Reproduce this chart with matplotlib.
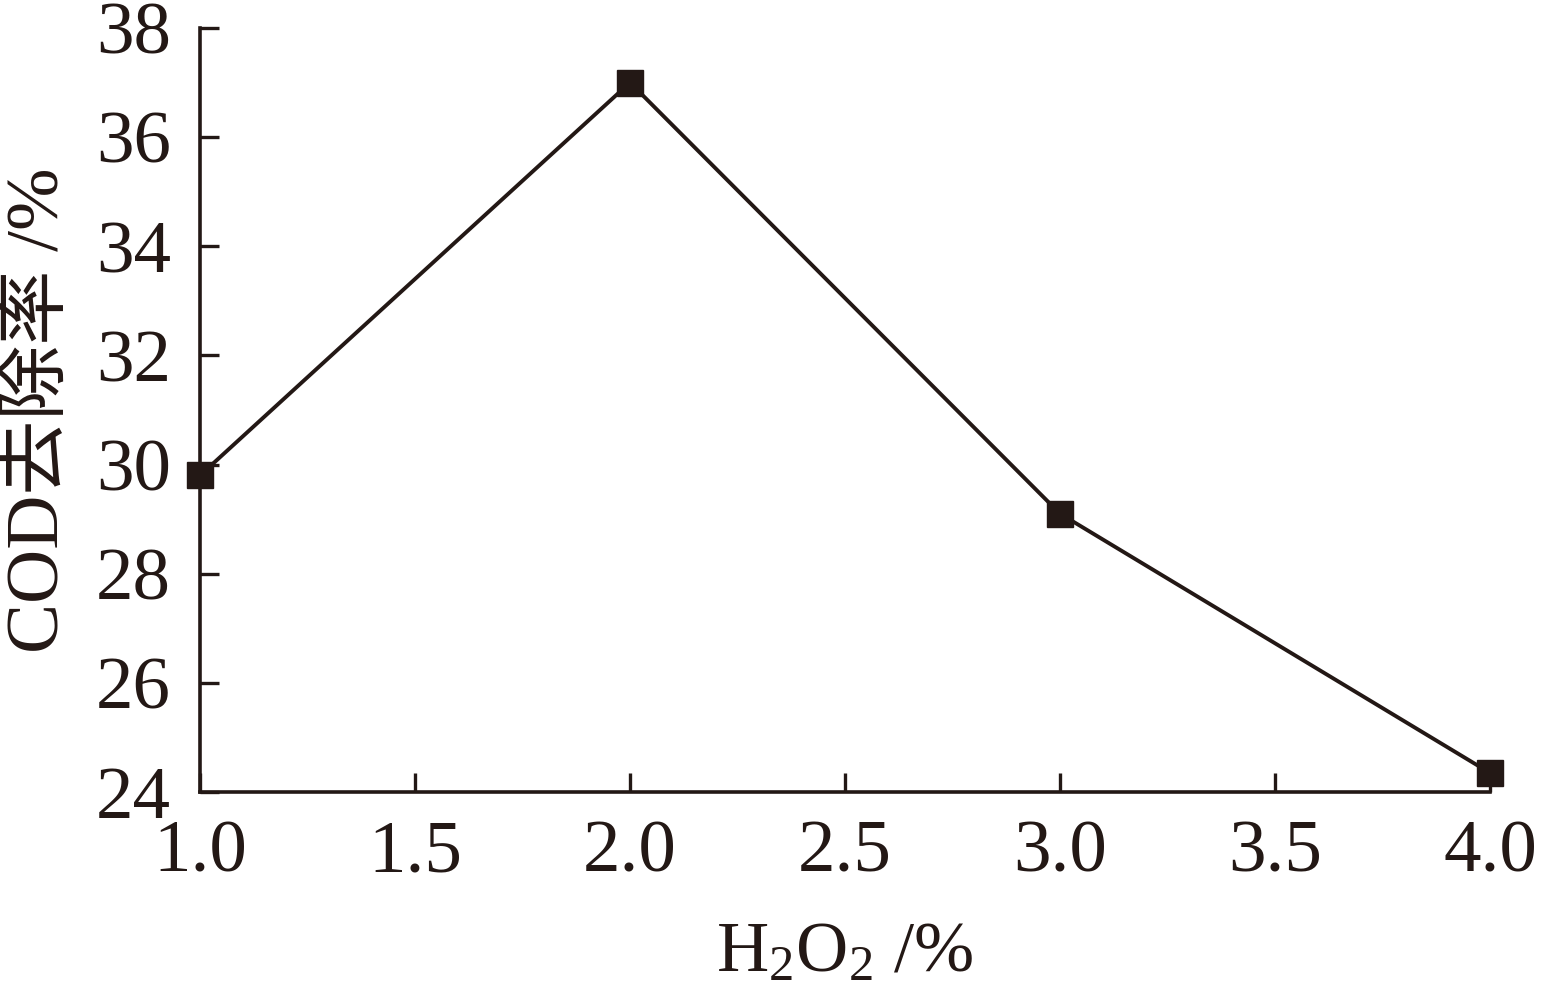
import matplotlib
matplotlib.use("Agg")
from matplotlib import pyplot as plt

# H2O2 dosage vs COD removal rate
h2o2 = [1.0, 2.0, 3.0, 4.0]
cod_removal = [29.8, 37.0, 29.1, 24.35]

x_ticks = [1.0, 1.5, 2.0, 2.5, 3.0, 3.5, 4.0]
y_ticks = [24, 26, 28, 30, 32, 34, 36, 38]

ink = '#231815'

plt.rcParams['font.family'] = ['Liberation Serif', 'Noto Sans CJK SC']
plt.rcParams['mathtext.fontset'] = 'custom'
plt.rcParams['mathtext.rm'] = 'Liberation Serif'
plt.rcParams['mathtext.it'] = 'Liberation Serif:italic'

fig = plt.figure(figsize=(15.42, 9.92), dpi=100)
ax = fig.add_axes([0.1297, 0.2016, 0.8366, 0.7702])

ax.plot(h2o2, cod_removal, color=ink, linewidth=2.8, marker='s',
        markersize=19, markerfacecolor=ink, markeredgecolor=ink, clip_on=False)

ax.set_xlim(1.0, 4.0)
ax.set_ylim(24, 38)
ax.set_xticks(x_ticks)
ax.set_xticklabels(['%.1f' % v for v in x_ticks])
ax.set_yticks(y_ticks)

for side in ['top', 'right']:
    ax.spines[side].set_visible(False)
for side in ['left', 'bottom']:
    ax.spines[side].set_linewidth(2.6)
    ax.spines[side].set_color(ink)

ax.tick_params(direction='in', length=14, width=2.4, colors=ink,
               labelsize=54, labelcolor=ink)
ax.tick_params(axis='x', pad=20)
ax.tick_params(axis='y', pad=21)

ax.set_xlabel('H$_2$O$_2$ /%', fontsize=52, color=ink, labelpad=24)
ax.set_ylabel('COD去除率 /%', fontsize=54, color=ink, labelpad=16)

fig.savefig('out.png', dpi=100)
